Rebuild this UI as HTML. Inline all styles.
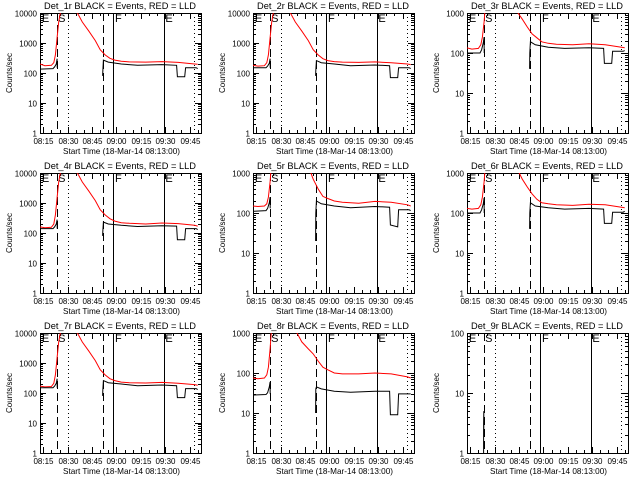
<!DOCTYPE html>
<html><head><meta charset="utf-8"><style>
html,body{margin:0;padding:0;background:#fff;}
svg{display:block;font-family:"Liberation Sans",sans-serif;}
</style></head><body>
<svg id="chart" width="640" height="480" viewBox="0 0 640 480"></svg>
<script>
const tickMinutes = [2,17,32,47,62,77,92];
const tickLabels = ["08:15","08:30","08:45","09:00","09:15","09:30","09:45"];
const markerMinutes = [10.2,17.4,39,45,76,94.7];
const markerStyles = ["dash","dot","dash","solid","solid","dot"];
const phaseMinutes = [0.5,10.5,45.5,76.5];
const phaseLabels = ["E","S","F","E"];
const panelNames = ["Det_1r","Det_2r","Det_3r","Det_4r","Det_5r","Det_6r","Det_7r","Det_8r","Det_9r"];
const panelMaxDecade = [4,4,3,4,3,3,4,3,2];
const redT = [0,3,7,8.5,9.5,10.5,11.5,12.5,13,null,22,23,26,30,34,37,40,43,46,50,55,65,75,85,95,97];
const blkT = [0,8,9,10,10.5,10.6,null,38.5,38.6,39,42,50,60,75,84,84.5,89,89.5,96,97];
const red1 = [200,175,180,220,400,1500,5000,10000,20000,null,20000,10000,5000,2500,1200,600,400,310,270,245,235,230,240,225,200,195];
const blk1 = [135,140,160,200,300,150,null,80,110,270,230,200,180,190,180,75,75,150,150,140];
const red2 = [180,170,175,220,400,1500,5000,10000,20000,null,20000,10000,5000,2500,1200,600,400,300,260,240,230,225,235,220,200,190];
const blk2 = [150,150,170,210,300,150,null,80,120,260,220,200,175,185,175,70,70,150,150,140];
const red3 = [135,125,130,160,250,600,2000,5000,20000,null,20000,20000,20000,1200,700,450,300,240,190,175,165,160,170,160,140,135];
const blk3 = [100,100,120,180,250,100,null,40,100,190,160,140,130,135,130,55,55,110,110,115];
const red4 = [160,150,155,200,400,1500,5000,10000,20000,null,20000,10000,5000,2500,1200,600,400,300,250,220,210,200,215,205,180,170];
const blk4 = [140,140,160,200,280,140,null,80,110,230,200,180,165,175,170,60,60,140,140,130];
const red5 = [150,145,150,170,250,600,2000,5000,20000,null,20000,20000,20000,5000,1500,700,400,260,230,200,185,175,195,185,160,150];
const blk5 = [110,115,130,180,250,130,null,20,100,200,170,150,135,145,140,50,45,120,120,115];
const red6 = [130,125,130,160,250,600,2000,5000,20000,null,20000,20000,20000,1500,700,450,300,220,180,170,160,155,165,160,140,135];
const blk6 = [100,100,120,170,240,100,null,40,100,180,150,135,125,130,125,55,55,105,105,110];
const red7 = [170,160,165,210,400,1500,5000,10000,20000,null,20000,10000,5000,2500,1200,600,400,300,260,230,220,215,225,210,190,180];
const blk7 = [150,150,170,210,300,150,null,80,120,260,220,200,175,185,175,70,70,140,140,130];
const red8 = [75,72,75,90,140,400,1500,5000,20000,null,20000,20000,1200,600,400,300,200,140,120,100,95,95,100,95,80,75];
const blk8 = [28,29,32,45,60,30,null,10,40,45,40,35,33,35,35,9,9,30,30,30];
const blk9T = [10.2,10.2,10.3,10.3,10.4];
const blk9 = [1,3,5,2.5,4];
const redSeries = [red1,red2,red3,red4,red5,red6,red7,red8,null];
const blkSeries = [blk1,blk2,blk3,blk4,blk5,blk6,blk7,blk8,blk9];
const blkTimes = [blkT,blkT,blkT,blkT,blkT,blkT,blkT,blkT,blk9T];

const NS="http://www.w3.org/2000/svg";
const svg=document.getElementById('chart');
function mk(tag,attrs,parent){const e=document.createElementNS(NS,tag);for(const k in attrs)e.setAttribute(k,attrs[k]);parent.appendChild(e);return e;}
const colX=[0,213,427], rowY=[0,160,320];
const L=40,R=201,T=13,B=133,TMAX=99;
for(let p=0;p<9;p++){
  const ox=colX[p%3], oy=rowY[Math.floor(p/3)];
  const g=mk('g',{transform:`translate(${ox},${oy})`,'shape-rendering':'crispEdges'},svg);
  
  
  const dec=panelMaxDecade[p];
  const xs=t=>L+(R-L)*t/TMAX;
  const ys=v=>{let lv=Math.log10(Math.max(v,0.5));return B-(B-T)*lv/dec;};
  const clip=mk('clipPath',{id:'c'+p},g);mk('rect',{x:L,y:T,width:R-L,height:B-T},clip);
  const tt=mk('text',{x:44,y:9,'font-size':9.5,fill:'#000',textLength:152,lengthAdjust:'spacingAndGlyphs'},g);
  tt.textContent=panelNames[p]+" BLACK = Events, RED = LLD";
  
  const box=mk('rect',{x:L+0.5,y:T+0.5,width:R-L,height:B-T,fill:'none',stroke:'#000','stroke-width':1},g);
  
  for(let d=0;d<=dec;d++){
    const y=Math.round(ys(Math.pow(10,d)))+0.5;
    mk('line',{x1:L,x2:L+6,y1:y,y2:y,stroke:'#000'},g);
    mk('line',{x1:R-6,x2:R,y1:y,y2:y,stroke:'#000'},g);
    const lb=mk('text',{x:L-3,y:y+3,'font-size':8,'text-anchor':'end',fill:'#000'},g);
    lb.textContent=String(Math.pow(10,d));
    
    if(d<dec){for(let m=2;m<10;m++){const ym=Math.round(ys(m*Math.pow(10,d)))+0.5;
      mk('line',{x1:L,x2:L+3,y1:ym,y2:ym,stroke:'#000'},g);mk('line',{x1:R-3,x2:R,y1:ym,y2:ym,stroke:'#000'},g);}}
  }
  tickMinutes.forEach((t,i)=>{
    const x=Math.round(xs(t))+0.5;
    mk('line',{x1:x,x2:x,y1:B-6,y2:B,stroke:'#000'},g);mk('line',{x1:x,x2:x,y1:T,y2:T+6,stroke:'#000'},g);
    for(let k=1;k<3;k++){const xm=Math.round(xs(t+5*k))+0.5;if(xm<R){mk('line',{x1:xm,x2:xm,y1:B-3,y2:B,stroke:'#000'},g);mk('line',{x1:xm,x2:xm,y1:T,y2:T+3,stroke:'#000'},g);}}
    const lb=mk('text',{x:x,y:B+11,'font-size':8,'text-anchor':'middle',fill:'#000'},g);
    lb.textContent=tickLabels[i];
    
  });
  const xt=mk('text',{x:63,y:B+21,'font-size':8.5,fill:'#000',textLength:117,lengthAdjust:'spacingAndGlyphs'},g);
  xt.textContent="Start Time (18-Mar-14 08:13:00)";
  
  const yt=mk('text',{x:12,y:73,'font-size':8,'text-anchor':'middle',fill:'#000',transform:'rotate(-90 12 73)'},g);
  yt.textContent="Counts/sec";
  
  markerMinutes.forEach((t,i)=>{
    const x=Math.round(xs(t))+0.5;const st=markerStyles[i];
    const ln=mk('line',{x1:x,x2:x,y1:T,y2:B,stroke:'#000','stroke-width':1},g);
    if(st==='dash')ln.setAttribute('stroke-dasharray','8,4');
    if(st==='dot')ln.setAttribute('stroke-dasharray','1,3');
    
  });
  phaseMinutes.forEach((t,i)=>{
    const lb=mk('text',{x:xs(t)+1,y:T+9,'font-size':11,fill:'#000'},g);
    lb.textContent=phaseLabels[i];
    
  });
  function draw(T_,V,color,name){
    if(!V)return;let d='',pen=false;
    for(let i=0;i<V.length;i++){
      if(V[i]===null||T_[i]===null){pen=false;continue;}
      const x=xs(T_[i]).toFixed(1),y=ys(V[i]).toFixed(1);
      d+=(pen?'L':'M')+x+' '+y+' ';pen=true;
    }
    const pth=mk('path',{d:d,fill:'none',stroke:color,'stroke-width':1,'clip-path':`url(#c${p})`,'shape-rendering':'auto'},g);
    
  }
  draw(redT,redSeries[p],'#ff0000','lld-series-red');
  draw(blkTimes[p],blkSeries[p],'#000000','events-series-black');
}
</script>
</body></html>
